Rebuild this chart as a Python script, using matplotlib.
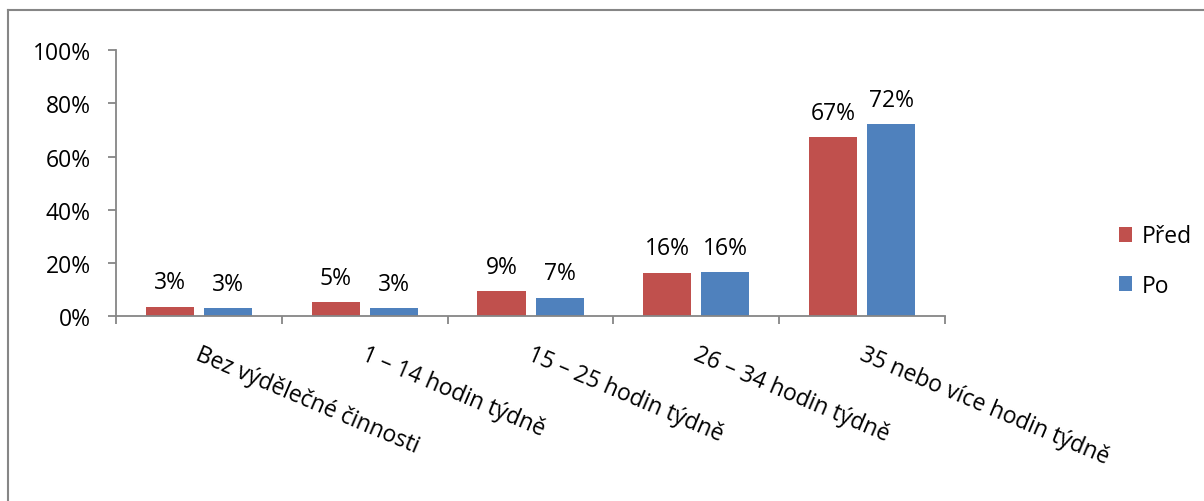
import matplotlib.pyplot as plt
import numpy as np
from matplotlib.lines import Line2D

plt.rcParams['font.family'] = ['Open Sans', 'DejaVu Sans']

# hours worked per week, share of respondents before / after
categories = ['Bez výdělečné činnosti', '1 – 14 hodin týdně', '15 – 25 hodin týdně',
              '26 – 34 hodin týdně', '35 nebo více hodin týdně']
pred = [3.4, 5.1, 9.3, 16.2, 67.2]
po = [2.9, 2.9, 6.9, 16.4, 72.2]
series_names = ['Před', 'Po']
yticks = [0, 20, 40, 60, 80, 100]

red = '#C0504D'
blue = '#4F81BD'
grey = '#868686'
fs = 16.5

fig = plt.figure(figsize=(12.04, 5.02), dpi=100)
ax = fig.add_axes([0.0963, 0.3685, 0.6887, 0.5295])

x = np.arange(len(categories))
w = 0.29
b1 = ax.bar(x - 0.175, pred, w, color=red, label=series_names[0])
b2 = ax.bar(x + 0.175, po, w, color=blue, label=series_names[1])

for bars, vals in ((b1, pred), (b2, po)):
    for rect, v in zip(bars, vals):
        ax.annotate(f'{v:.0f}%', (rect.get_x() + rect.get_width() / 2, rect.get_height()),
                    xytext=(0, 9), textcoords='offset points',
                    ha='center', va='bottom', fontsize=fs)

ax.set_xlim(-0.5, len(categories) - 0.5)
ax.set_ylim(0, 100)
ax.set_yticks(yticks)
ax.set_yticklabels([f'{t}%' for t in yticks], fontsize=fs)

# category boundaries as tick marks, labels placed separately
ax.set_xticks(np.arange(-0.5, len(categories), 1.0))
ax.set_xticklabels([])
for xi, name in zip(x, categories):
    ax.annotate(name, (xi, 0), xytext=(2, -19), textcoords='offset points',
                ha='left', va='top', rotation=-23, rotation_mode='anchor', fontsize=fs)

for side in ('top', 'right'):
    ax.spines[side].set_visible(False)
for side in ('left', 'bottom'):
    ax.spines[side].set_color(grey)
    ax.spines[side].set_linewidth(1.3)
ax.tick_params(axis='both', direction='out', length=6, width=1.3, color=grey)
ax.tick_params(axis='y', pad=12)

leg = fig.legend(handles=[b1, b2], loc='center left', bbox_to_anchor=(0.912, 0.478),
                 frameon=False, fontsize=fs, handlelength=0.6, handleheight=0.6,
                 handletextpad=0.4, labelspacing=1.1)

# outer chart frame
fig.add_artist(Line2D([0.007, 0.007], [0, 0.979], color=grey, lw=1.5, transform=fig.transFigure))
fig.add_artist(Line2D([0.007, 1], [0.979, 0.979], color=grey, lw=1.5, transform=fig.transFigure))

fig.savefig('out.png', dpi=100)
